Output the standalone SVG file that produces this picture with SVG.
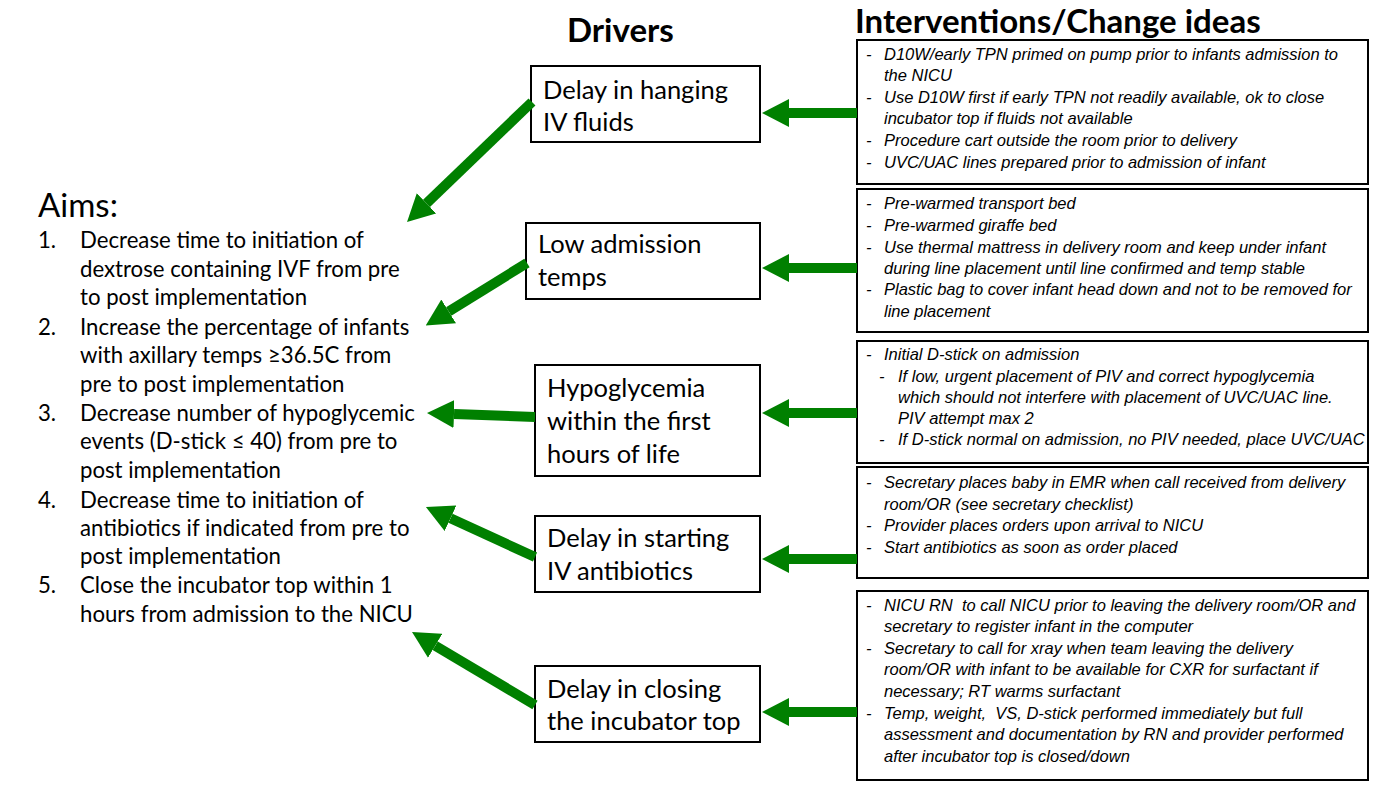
<svg xmlns="http://www.w3.org/2000/svg" width="1386" height="791" viewBox="0 0 1386 791">
<style>
  text { font-family: Lato, "Liberation Sans", sans-serif; fill: #000; }
  .hdr { font-weight: bold; font-size: 33px; }
  .aimh { font-size: 33px; }
  .aim { font-size: 22.2px; }
  .drv { font-size: 25.5px; }
  .iv { font-family: "Liberation Sans", Arial, sans-serif; font-size: 16.5px; font-style: italic; white-space: pre; }
  .box { fill: #fff; stroke: #000; stroke-width: 2; }
  .arr { stroke: #008000; stroke-width: 10; fill: none; }
</style>
<defs>
  <marker id="ah" viewBox="0 0 27 28" markerUnits="userSpaceOnUse" markerWidth="27" markerHeight="28" refX="0" refY="14" orient="auto">
    <path d="M0,0 L27,14 L0,28 z" fill="#008000"/>
  </marker>
</defs>

<rect width="1386" height="791" fill="#fff"/>

<g id="headers">
  <text class="hdr" x="567" y="42">Drivers</text>
  <text class="hdr" x="855" y="33">Interventions/Change ideas</text>
</g>

<g id="aims">
  <text class="aimh" x="38" y="217">Aims:</text>
  <text class="aim" x="38" y="248">1.</text>
  <text class="aim" x="80" y="248">Decrease time to initiation of</text>
  <text class="aim" x="80" y="277">dextrose containing IVF from pre</text>
  <text class="aim" x="80" y="305">to post implementation</text>
  <text class="aim" x="38" y="335">2.</text>
  <text class="aim" x="80" y="335">Increase the percentage of infants</text>
  <text class="aim" x="80" y="363">with axillary temps ≥36.5C from</text>
  <text class="aim" x="80" y="392">pre to post implementation</text>
  <text class="aim" x="38" y="421">3.</text>
  <text class="aim" x="80" y="421">Decrease number of hypoglycemic</text>
  <text class="aim" x="80" y="449">events (D-stick ≤ 40) from pre to</text>
  <text class="aim" x="80" y="478">post implementation</text>
  <text class="aim" x="38" y="508">4.</text>
  <text class="aim" x="80" y="508">Decrease time to initiation of</text>
  <text class="aim" x="80" y="536">antibiotics if indicated from pre to</text>
  <text class="aim" x="80" y="564">post implementation</text>
  <text class="aim" x="38" y="593">5.</text>
  <text class="aim" x="80" y="593">Close the incubator top within 1</text>
  <text class="aim" x="80" y="622">hours from admission to the NICU</text>
</g>

<g id="driver-iv-fluids">
  <rect class="box" x="531" y="66" width="229" height="76"/>
  <text class="drv" x="543" y="99">Delay in hanging</text>
  <text class="drv" x="543" y="131">IV fluids</text>
</g>
<g id="driver-temps">
  <rect class="box" x="526" y="223" width="234" height="76"/>
  <text class="drv" x="538" y="253">Low admission</text>
  <text class="drv" x="538" y="286">temps</text>
</g>
<g id="driver-hypoglycemia">
  <rect class="box" x="535" y="365" width="225" height="111"/>
  <text class="drv" x="547" y="397">Hypoglycemia</text>
  <text class="drv" x="547" y="430">within the first</text>
  <text class="drv" x="547" y="463">hours of life</text>
</g>
<g id="driver-antibiotics">
  <rect class="box" x="535" y="516" width="225" height="76"/>
  <text class="drv" x="547" y="547">Delay in starting</text>
  <text class="drv" x="547" y="580">IV antibiotics</text>
</g>
<g id="driver-incubator">
  <rect class="box" x="535" y="666" width="225" height="76"/>
  <text class="drv" x="547" y="698">Delay in closing</text>
  <text class="drv" x="547" y="730">the incubator top</text>
</g>

<g id="int-iv-fluids">
  <rect class="box" x="857" y="40" width="511" height="144"/>
  <text class="iv" x="866" y="60">-</text><text class="iv" x="884" y="60">D10W/early TPN primed on pump prior to infants admission to</text>
  <text class="iv" x="884" y="81">the NICU</text>
  <text class="iv" x="866" y="103">-</text><text class="iv" x="884" y="103">Use D10W first if early TPN not readily available, ok to close</text>
  <text class="iv" x="884" y="124">incubator top if fluids not available</text>
  <text class="iv" x="866" y="146">-</text><text class="iv" x="884" y="146">Procedure cart outside the room prior to delivery</text>
  <text class="iv" x="866" y="168">-</text><text class="iv" x="884" y="168">UVC/UAC lines prepared prior to admission of infant</text>
</g>
<g id="int-temps">
  <rect class="box" x="857" y="189" width="511" height="143"/>
  <text class="iv" x="866" y="209">-</text><text class="iv" x="884" y="209">Pre-warmed transport bed</text>
  <text class="iv" x="866" y="231">-</text><text class="iv" x="884" y="231">Pre-warmed giraffe bed</text>
  <text class="iv" x="866" y="253">-</text><text class="iv" x="884" y="253">Use thermal mattress in delivery room and keep under infant</text>
  <text class="iv" x="884" y="274">during line placement until line confirmed and temp stable</text>
  <text class="iv" x="866" y="295">-</text><text class="iv" x="884" y="295">Plastic bag to cover infant head down and not to be removed for</text>
  <text class="iv" x="884" y="317">line placement</text>
</g>
<g id="int-hypoglycemia">
  <rect class="box" x="857" y="341" width="511" height="122"/>
  <text class="iv" x="866" y="360">-</text><text class="iv" x="884" y="360">Initial D-stick on admission</text>
  <text class="iv" x="879" y="382">-</text><text class="iv" x="898" y="382">If low, urgent placement of PIV and correct hypoglycemia</text>
  <text class="iv" x="898" y="403">which should not interfere with placement of UVC/UAC line.</text>
  <text class="iv" x="898" y="424">PIV attempt max 2</text>
  <text class="iv" x="879" y="445">-</text><text class="iv" x="898" y="445">If D-stick normal on admission, no PIV needed, place UVC/UAC</text>
</g>
<g id="int-antibiotics">
  <rect class="box" x="857" y="467" width="511" height="111"/>
  <text class="iv" x="866" y="488">-</text><text class="iv" x="884" y="488">Secretary places baby in EMR when call received from delivery</text>
  <text class="iv" x="884" y="510">room/OR (see secretary checklist)</text>
  <text class="iv" x="866" y="531">-</text><text class="iv" x="884" y="531">Provider places orders upon arrival to NICU</text>
  <text class="iv" x="866" y="553">-</text><text class="iv" x="884" y="553">Start antibiotics as soon as order placed</text>
</g>
<g id="int-incubator">
  <rect class="box" x="857" y="591" width="511" height="189"/>
  <text class="iv" x="866" y="611">-</text><text class="iv" x="884" y="611">NICU RN  to call NICU prior to leaving the delivery room/OR and</text>
  <text class="iv" x="884" y="632">secretary to register infant in the computer</text>
  <text class="iv" x="866" y="654">-</text><text class="iv" x="884" y="654">Secretary to call for xray when team leaving the delivery</text>
  <text class="iv" x="884" y="675">room/OR with infant to be available for CXR for surfactant if</text>
  <text class="iv" x="884" y="697">necessary; RT warms surfactant</text>
  <text class="iv" x="866" y="719">-</text><text class="iv" x="884" y="719">Temp, weight,  VS, D-stick performed immediately but full</text>
  <text class="iv" x="884" y="740">assessment and documentation by RN and provider performed</text>
  <text class="iv" x="884" y="762">after incubator top is closed/down</text>
</g>

<g id="connectors">
  <line class="arr" x1="857" y1="113" x2="789" y2="113" marker-end="url(#ah)"/>
  <line class="arr" x1="857" y1="268" x2="789" y2="268" marker-end="url(#ah)"/>
  <line class="arr" x1="857" y1="413" x2="789" y2="413" marker-end="url(#ah)"/>
  <line class="arr" x1="857" y1="559" x2="789" y2="559" marker-end="url(#ah)"/>
  <line class="arr" x1="857" y1="712" x2="789" y2="712" marker-end="url(#ah)"/>
  <line class="arr" x1="532" y1="102" x2="426.5" y2="203.3" marker-end="url(#ah)"/>
  <line class="arr" x1="527" y1="263" x2="448.7" y2="311.4" marker-end="url(#ah)"/>
  <line class="arr" x1="535" y1="417" x2="454" y2="414" marker-end="url(#ah)"/>
  <line class="arr" x1="535" y1="557" x2="450.5" y2="518.3" marker-end="url(#ah)"/>
  <line class="arr" x1="535" y1="705" x2="435.2" y2="645.8" marker-end="url(#ah)"/>
</g>
</svg>
